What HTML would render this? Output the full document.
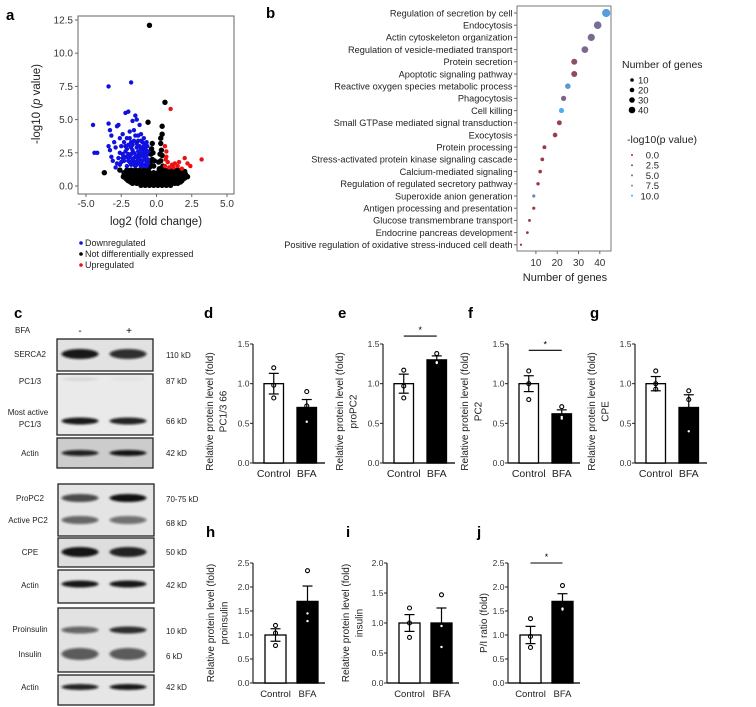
<!DOCTYPE html>
<html><head><meta charset="utf-8"><style>
html,body{margin:0;padding:0;background:#fff;}
svg{display:block;font-family:"Liberation Sans",Arial,sans-serif;}
</style></head><body>
<svg id="fig" width="756" height="707" viewBox="0 0 756 707" xmlns="http://www.w3.org/2000/svg">
<defs>
<filter id="blur1" x="-20%" y="-100%" width="140%" height="300%"><feGaussianBlur stdDeviation="1.3 1.0"/></filter>
</defs>
<g id="panelA"></g>
<g id="panelB"></g>
<g id="panelC"></g>
<g id="bars"></g>
</svg>
<script>
// ---------- Panel a data ----------
const bluePts=[[-4.5,4.6],[-4.4,2.5],[-4.2,2.5],[-3.4,7.5],[-1.8,7.8],[-3.4,4.7],[-3.3,4.2],[-3.2,3.8],[-3.4,3.0],[-3.3,2.7],[-3.2,2.2],[-3.0,3.3],[-2.9,2.9],[-2.8,4.5],[-2.7,4.6],[-2.6,3.6],[-2.5,3.0],[-2.4,2.4],[-2.3,1.9],[-3.1,1.9],[-2.9,1.4],[-2.2,5.5],[-2.0,5.6],[-2.1,3.6],[-1.9,4.1],[-1.8,2.9],[-1.7,4.9],[-1.6,4.2],[-1.5,5.3],[-1.4,5.0],[-1.2,4.6],[-1.1,3.9],[-1.0,3.3],[-0.9,2.7],[-0.8,2.9],[-0.7,3.3],[-0.7,2.3],[-0.6,2.0],[-1.3,2.0],[-1.5,1.8],[-1.8,1.6],[-2.1,1.5],[-2.5,1.8],[-2.7,2.1],[-2.2,2.6],[-1.9,2.2],[-1.6,2.5],[-1.4,2.9],[-1.2,2.4],[-1.0,1.9],[-0.8,1.6],[-1.1,1.5],[-1.6,3.4],[-2.0,3.1],[-2.4,3.9],[-1.3,3.4],[-0.9,3.6],[-1.7,2.0],[-2.2,2.2],[-1.0,2.6],[-0.7,1.8],[-1.5,3.8],[-1.9,3.6],[-2.8,1.7],[-2.6,2.5],[-1.3,1.7],[-1.2,3.0],[-0.9,2.2],[-1.4,2.3],[-1.7,2.7],[-2.0,2.4],[-2.3,3.3],[-0.8,2.0],[-1.1,2.8],[-1.5,1.5],[-1.9,1.8],[-0.6,2.6],[-0.65,3.0],[-1.0,1.6],[-1.2,2.1],[-1.6,2.1],[-2.0,1.9],
[-1.4,1.6],[-1.1,1.8],[-0.9,1.5],[-0.7,1.5],[-1.3,2.6],[-1.5,2.2],[-1.8,2.4],[-2.1,2.8],[-0.8,2.5],[-1.0,2.3],[-1.2,1.8],[-0.6,1.7],[-1.7,1.8],[-2.4,2.1],[-2.6,1.6],[-1.4,3.2],[-1.1,3.4],[-0.8,3.2],[-1.8,3.3],[-2.2,3.0],[-0.9,3.0],[-1.3,3.8],[-1.7,3.1],[-2.0,2.1],[-1.6,1.6],[-0.75,2.7]];
const redPts=[[1.0,5.8],[0.6,3.0],[0.7,2.6],[0.7,2.2],[0.8,1.8],[0.9,1.4],[1.1,1.6],[1.3,1.7],[1.5,1.5],[1.6,1.8],[2.0,2.1],[2.2,1.7],[2.4,1.5],[3.2,2.0],[0.6,1.5],[1.8,1.3],[0.65,2.0],[1.2,1.4]];
const blackPts=[[-0.5,12.1],[0.6,6.3],[-0.6,4.8],[0.4,4.5],[0.4,3.9],[0.3,3.6],[-3.7,1.0],[-2.6,1.2],[1.6,1.0],[1.9,0.8],[2.0,1.1],
[-0.3,3.2],[-0.35,2.8],[-0.4,2.4],[-0.3,2.0],[-0.45,1.7],[-0.5,1.4],[0.3,3.2],[0.35,2.7],[0.4,2.3],[0.3,1.9],[0.45,1.5],[0.5,1.2],[-0.2,1.5],[0.2,1.3],[-0.25,2.5],[0.25,2.4],[-0.15,1.9],[0.15,1.8],
[-2.1,1.2],[-1.8,1.2],[-1.5,1.2],[-1.2,1.2],[-0.9,1.2],[-0.6,1.2],[0.6,1.2],[0.9,1.2],[1.2,1.2],[1.5,1.2],[1.8,1.2],
[-2.3,1.0],[-2.0,1.0],[-1.7,1.0],[-1.4,1.0],[-1.1,1.0],[-0.8,1.0],[-0.5,1.0],[-0.2,1.0],[0.1,1.0],[0.4,1.0],[0.7,1.0],[1.0,1.0],[1.3,1.0],[1.6,1.0],[1.9,1.0],
[-2.15,0.9],[-1.85,0.9],[-1.55,0.9],[-1.25,0.9],[-0.95,0.9],[-0.65,0.9],[-0.35,0.9],[-0.05,0.9],[0.25,0.9],[0.55,0.9],[0.85,0.9],[1.15,0.9],[1.45,0.9],[1.75,0.9],[2.05,0.9],
[-2.3,0.8],[-2.0,0.8],[-1.7,0.8],[-1.4,0.8],[-1.1,0.8],[-0.8,0.8],[-0.5,0.8],[-0.2,0.8],[0.1,0.8],[0.4,0.8],[0.7,0.8],[1.0,0.8],[1.3,0.8],[1.6,0.8],[2.1,0.8],
[-2.35,0.7],[-2.05,0.7],[-1.75,0.7],[-1.45,0.7],[-1.15,0.7],[-0.85,0.7],[-0.55,0.7],[-0.25,0.7],[0.05,0.7],[0.35,0.7],[0.65,0.7],[0.95,0.7],[1.25,0.7],[1.55,0.7],[1.85,0.7],[2.2,0.7],
[-2.2,0.6],[-1.9,0.6],[-1.6,0.6],[-1.3,0.6],[-1.0,0.6],[-0.7,0.6],[-0.4,0.6],[-0.1,0.6],[0.2,0.6],[0.5,0.6],[0.8,0.6],[1.1,0.6],[1.4,0.6],[1.7,0.6],[2.0,0.6],
[-2.1,0.5],[-1.75,0.5],[-1.45,0.5],[-1.15,0.5],[-0.85,0.5],[-0.55,0.5],[-0.25,0.5],[0.05,0.5],[0.35,0.5],[0.65,0.5],[0.95,0.5],[1.25,0.5],[1.55,0.5],[1.85,0.5],
[-2.0,0.4],[-1.7,0.4],[-1.4,0.4],[-1.1,0.4],[-0.8,0.4],[-0.5,0.4],[-0.2,0.4],[0.1,0.4],[0.4,0.4],[0.7,0.4],[1.0,0.4],[1.3,0.4],[1.6,0.4],[1.8,0.4],
[-1.85,0.3],[-1.55,0.3],[-1.25,0.3],[-0.95,0.3],[-0.65,0.3],[-0.35,0.3],[-0.05,0.3],[0.25,0.3],[0.55,0.3],[0.85,0.3],[1.15,0.3],[1.45,0.3],[1.7,0.3],
[-1.7,0.2],[-1.4,0.2],[-1.1,0.2],[-0.8,0.2],[-0.5,0.2],[-0.2,0.2],[0.1,0.2],[0.4,0.2],[0.7,0.2],[1.0,0.2],[1.3,0.2],[1.5,0.2],
[-1.1,0.05],[-0.8,0.05],[-0.5,0.05],[-0.2,0.05],[0.1,0.05],[0.4,0.05],[0.7,0.05],[1.0,0.05]];
const volcXTicks=[-5,-2.5,0,2.5,5];
const volcXLabels=["-5.0","-2.5","0.0","2.5","5.0"];
const volcYTicks=[0,2.5,5,7.5,10,12.5];
const volcYLabels=["0.0","2.5","5.0","7.5","10.0","12.5"];

// ---------- Panel b data ----------
const goTerms=["Regulation of secretion by cell","Endocytosis","Actin cytoskeleton organization","Regulation of vesicle-mediated transport","Protein secretion","Apoptotic signaling pathway","Reactive oxygen species metabolic process","Phagocytosis","Cell killing","Small GTPase mediated signal transduction","Exocytosis","Protein processing","Stress-activated protein kinase signaling cascade","Calcium-mediated signaling","Regulation of regulated secretory pathway","Superoxide anion generation","Antigen processing and presentation","Glucose transmembrane transport","Endocrine pancreas development","Positive regulation of oxidative stress-induced cell death"];
const goCounts=[43,39,36,33,28,28,25,23,22,21,19,14,13,12,11,9,9,7,6,3];
const goPvals=[9,5.5,5,5,3,2.5,8.5,4.5,10,2,1.5,1.5,1.5,1.2,1.2,7,1.2,1,0.8,0.5];
const goXTicks=[10,20,30,40];
const sizeLegend=[10,20,30,40];
const pLegend=[0,2.5,5,7.5,10];
const pLegendLabels=["0.0","2.5","5.0","7.5","10.0"];

// ---------- Bar chart data ----------
const groups=["Control","BFA"];
const dMeans=[1.0,0.70], dErr=[0.13,0.10], dPts=[[1.2,0.98,0.82],[0.9,0.72,0.52]];
const eMeans=[1.0,1.30], eErr=[0.12,0.05], ePts=[[1.17,0.97,0.82],[1.38,1.27,1.26]];
const fMeans=[1.0,0.62], fErr=[0.10,0.05], fPts=[[1.16,1.0,0.8],[0.71,0.56,0.58]];
const gMeans=[1.0,0.70], gErr=[0.09,0.16], gPts=[[1.16,1.0,0.93],[0.91,0.80,0.40]];
const hMeans=[1.0,1.70], hErr=[0.13,0.32], hPts=[[1.2,1.04,0.78],[2.34,1.45,1.29]];
const iMeans=[1.0,1.0], iErr=[0.14,0.25], iPts=[[1.25,1.0,0.76],[1.47,0.95,0.6]];
const jMeans=[1.0,1.70], jErr=[0.18,0.16], jPts=[[1.34,0.97,0.74],[2.03,1.53,1.55]];
const ticks15=[0,0.5,1.0,1.5], ticks20=[0,0.5,1.0,1.5,2.0], ticks25=[0,0.5,1.0,1.5,2.0,2.5];

const NS="http://www.w3.org/2000/svg";
function mk(parent,tag,attrs,text){const e=document.createElementNS(NS,tag);for(const k in attrs)e.setAttribute(k,attrs[k]);if(text!==undefined)e.textContent=text;parent.appendChild(e);return e;}

// ---------- Panel a ----------
(function(){
const g=document.getElementById('panelA');
const xs=v=>156.5+14.1*v, ys=v=>186-13.28*v;
let t=mk(g,'text',{x:6,y:20,'font-size':15,'font-weight':'bold'},'a');

let box=mk(g,'rect',{x:78,y:16,width:156,height:178,fill:'none',stroke:'#666','stroke-width':1});

volcYTicks.forEach((v,i)=>{mk(g,'line',{x1:75,x2:78,y1:ys(v),y2:ys(v),stroke:'#666'});
 const l=mk(g,'text',{x:73,y:ys(v)+3.5,'font-size':10,'text-anchor':'end',fill:'#333'},volcYLabels[i]);
 });
volcXTicks.forEach((v,i)=>{mk(g,'line',{x1:xs(v),x2:xs(v),y1:194,y2:197,stroke:'#666'});
 const l=mk(g,'text',{x:xs(v),y:207,'font-size':10,'text-anchor':'middle',fill:'#333'},volcXLabels[i]);
 });
let xt=mk(g,'text',{x:156,y:225,'font-size':11.5,'text-anchor':'middle',fill:'#222'},'log2 (fold change)');

let yt=mk(g,'text',{x:0,y:0,'font-size':11.5,'text-anchor':'middle',fill:'#222',transform:'translate(40,104) rotate(-90)'});
yt.innerHTML='-log10 (<tspan font-style="italic">p</tspan> value)';

const pts=mk(g,'g',{});
blackPts.forEach(p=>{const c=mk(pts,'circle',{cx:xs(p[0]),cy:ys(p[1]),r:2.7,fill:'#000'});});
bluePts.forEach(p=>{const c=mk(pts,'circle',{cx:xs(p[0]),cy:ys(p[1]),r:2.2,fill:'#1010e0'});});
redPts.forEach(p=>{const c=mk(pts,'circle',{cx:xs(p[0]),cy:ys(p[1]),r:2.2,fill:'#ee1111'});});
const leg=[["Downregulated","#1010e0"],["Not differentially expressed","#000"],["Upregulated","#ee1111"]];
leg.forEach((e,i)=>{const y=246+i*11;
 const c=mk(g,'circle',{cx:81,cy:y-3,r:1.8,fill:e[1]});
 const l=mk(g,'text',{x:85,y:y,'font-size':9,fill:'#222'},e[0]);});
})();

// ---------- Panel b ----------
(function(){
const g=document.getElementById('panelB');
const xs=v=>514.6+2.13*v, yr=i=>13+i*12.2;
const rs=n=>0.9+n*0.075;
function col(p){const f=Math.min(1,Math.max(0,p/10));const a=[165,40,45],b=[80,170,240];
 return 'rgb('+a.map((c,i)=>Math.round(c+(b[i]-c)*f)).join(',')+')';}
let t=mk(g,'text',{x:266,y:18,'font-size':15,'font-weight':'bold'},'b');

let box=mk(g,'rect',{x:517,y:6,width:94,height:245,fill:'none',stroke:'#777','stroke-width':1});

goTerms.forEach((s,i)=>{mk(g,'line',{x1:514,x2:517,y1:yr(i),y2:yr(i),stroke:'#666'});
 const l=mk(g,'text',{x:512.5,y:yr(i)+3.3,'font-size':9.2,'text-anchor':'end',fill:'#222'},s);
 
 const c=mk(g,'circle',{cx:xs(goCounts[i]),cy:yr(i),r:rs(goCounts[i]),fill:col(goPvals[i])});
 });
goXTicks.forEach(v=>{mk(g,'line',{x1:xs(v),x2:xs(v),y1:251,y2:254,stroke:'#666'});
 const l=mk(g,'text',{x:xs(v),y:266,'font-size':10,'text-anchor':'middle',fill:'#333'},String(v));
 });
let xt=mk(g,'text',{x:565,y:281,'font-size':11,'text-anchor':'middle',fill:'#222'},'Number of genes');

let lt=mk(g,'text',{x:622,y:68,'font-size':10.5,fill:'#222'},'Number of genes');

sizeLegend.forEach((n,i)=>{const y=80+i*10;
 const c=mk(g,'circle',{cx:632,cy:y,r:1.3+n*0.05,fill:'#000'});
 const l=mk(g,'text',{x:638,y:y+3.5,'font-size':9.5,fill:'#222'},String(n));});
let pt=mk(g,'text',{x:627,y:143,'font-size':10.5,fill:'#222'},'-log10(p value)');

pLegend.forEach((p,i)=>{const y=155+i*10.2;
 const c=mk(g,'circle',{cx:632,cy:y,r:1,fill:col(p)});
 const l=mk(g,'text',{x:659,y:y+3.5,'font-size':9.5,'text-anchor':'end',fill:'#222'},pLegendLabels[i]);});
})();

// ---------- Panel c (western blots) ----------
(function(){
const g=document.getElementById('panelC');
let t=mk(g,'text',{x:14,y:318,'font-size':15,'font-weight':'bold'},'c');

mk(g,'text',{x:15,y:333,'font-size':8,fill:'#222'},'BFA');
mk(g,'text',{x:80,y:334,'font-size':10,'text-anchor':'middle'},'-');
mk(g,'text',{x:129,y:334,'font-size':10,'text-anchor':'middle'},'+');
const boxes=[[57,339,96,32,'#e2e2e2'],[57,374,96,61,'#eaeaea'],[57,438,96,30,'#cccccc'],[58,484,96,52,'#e4e4e4'],[58,538,96,29,'#dedede'],[58,570,96,33,'#e6e6e6'],[58,608,96,64,'#e2e2e2'],[58,675,96,30,'#e6e6e6']];
boxes.forEach(b=>{const r=mk(g,'rect',{x:b[0],y:b[1],width:b[2],height:b[3],fill:b[4],stroke:'#222','stroke-width':1.3});
 });
// bands: [y, height, opacity-left, opacity-right]
const bands=[[354,10,0.95,0.85],[379,4,0.08,0.03],[421,7,0.95,0.9],[453,6,0.9,0.97],[498,8,0.72,0.98],[520,8,0.6,0.55],[552,10,0.97,0.9],[584,7,0.95,0.95],[630,7,0.6,0.85],[654,12,0.65,0.65],[687,6,0.9,0.95]];
bands.forEach(b=>{[[80,b[2]],[128,b[3]]].forEach(l=>{
 const e=mk(g,'ellipse',{cx:l[0],cy:b[0],rx:18.5,ry:b[1]/2,fill:'#111','fill-opacity':l[1],filter:'url(#blur1)'});
 });});
const left=[["SERCA2",357],["PC1/3",384],["Most active",415],["PC1/3",427],["Actin",456],["ProPC2",501],["Active PC2",523],["CPE",555],["Actin",588],["Proinsulin",632],["Insulin",657],["Actin",690]];
left.forEach(l=>{const e=mk(g,'text',{x:l[0]==="Most active"||l[0]==="Active PC2"?28:30,y:l[1],'font-size':8,'text-anchor':'middle',fill:'#222'},l[0]);
 });
const right=[["110 kD",358],["87 kD",384],["66 kD",424],["42 kD",456],["70-75 kD",502],["68 kD",526],["50 kD",555],["42 kD",588],["10 kD",634],["6 kD",659],["42 kD",690]];
right.forEach(l=>{const e=mk(g,'text',{x:166,y:l[1],'font-size':8,fill:'#222'},l[0]);
 });
})();

// ---------- Bar charts ----------
function barChart(o){
 const g=mk(document.getElementById('bars'),'g',{});
 
 const ys=v=>o.y0-(o.y0-o.yTop)*v/o.ymax;
 const ax=o.ax;
 let t=mk(g,'text',{x:o.lx,y:o.ly,'font-size':15,'font-weight':'bold'},o.id);
 
 mk(g,'line',{x1:ax,x2:ax,y1:o.yTop,y2:o.y0,stroke:'#222','stroke-width':1.2});
 mk(g,'line',{x1:ax,x2:ax+72,y1:o.y0,y2:o.y0,stroke:'#222','stroke-width':1.4});
 o.ticks.forEach(v=>{mk(g,'line',{x1:ax-3,x2:ax,y1:ys(v),y2:ys(v),stroke:'#222'});
  const l=mk(g,'text',{x:ax-3.5,y:ys(v)+3,'font-size':8.5,'text-anchor':'end',fill:'#333'},v.toFixed(1));
  });
 const bx=[ax+o.bo[0],ax+o.bo[1]];
 o.means.forEach((m,i)=>{
  const r=mk(g,'rect',{x:bx[i],y:ys(m),width:o.bw,height:o.y0-ys(m),fill:i?'#000':'#fff',stroke:'#000','stroke-width':1.3});
  
  const cx=bx[i]+o.bw/2;
  const top=ys(m+o.err[i]);
  mk(g,'line',{x1:cx,x2:cx,y1:ys(m),y2:top,stroke:'#000','stroke-width':1.2});
  mk(g,'line',{x1:cx-5,x2:cx+5,y1:top,y2:top,stroke:'#000','stroke-width':1.2});
  if(!i){const bt=ys(m-o.err[i]);mk(g,'line',{x1:cx,x2:cx,y1:ys(m),y2:bt,stroke:'#000','stroke-width':1.2});mk(g,'line',{x1:cx-5,x2:cx+5,y1:bt,y2:bt,stroke:'#000','stroke-width':1.2});}
  o.pts[i].forEach(p=>{const inside=i&&p<m;
   const c=mk(g,'circle',{cx:cx,cy:ys(p),r:inside?1.2:2,fill:inside?'#fff':'none',stroke:inside?'none':'#000','stroke-width':1.1});
   });
  const l=mk(g,'text',{x:cx,y:o.y0+o.xly,'font-size':o.xfs,'text-anchor':'middle',fill:'#222'},groups[i]);
  
 });
 if(o.sig!==undefined){const sy=ys(o.sig);const c0=bx[0]+o.bw/2,c1=bx[1]+o.bw/2;
  mk(g,'line',{x1:c0,x2:c1,y1:sy,y2:sy,stroke:'#000','stroke-width':1.1});
  mk(g,'text',{x:(c0+c1)/2,y:sy-3,'font-size':9,'text-anchor':'middle'},'*');}
 const cy=(o.yTop+o.y0)/2+o.tyo;
 o.title.forEach((s,k)=>{const l=mk(g,'text',{x:0,y:0,'font-size':10,'text-anchor':'middle',fill:'#222',transform:'translate('+(o.tx+k*13.5)+','+cy+') rotate(-90)'},s);
  });
}
const r1={y0:463,yTop:344,ymax:1.5,ticks:ticks15,bo:[11,44],bw:19.5,xly:14,xfs:10.5,ly:318,tyo:8};
barChart(Object.assign({},r1,{id:'d',ax:253,lx:204,means:dMeans,err:dErr,pts:dPts,title:['Relative protein level (fold)','PC1/3 66'],tx:213}));
barChart(Object.assign({},r1,{id:'e',ax:383,lx:338,means:eMeans,err:eErr,pts:ePts,sig:1.6,title:['Relative protein level (fold)','proPC2'],tx:343}));
barChart(Object.assign({},r1,{id:'f',ax:508,lx:468,means:fMeans,err:fErr,pts:fPts,sig:1.42,title:['Relative protein level (fold)','PC2'],tx:468}));
barChart(Object.assign({},r1,{id:'g',ax:635,lx:590,means:gMeans,err:gErr,pts:gPts,title:['Relative protein level (fold)','CPE'],tx:595}));
const r2={y0:683,yTop:563,bo:[12,44],bw:21,xly:14,xfs:9.5,ly:537,tyo:0};
barChart(Object.assign({},r2,{id:'h',ax:253,lx:206,ymax:2.5,ticks:ticks25,means:hMeans,err:hErr,pts:hPts,title:['Relative protein level (fold)','proinsulin'],tx:214}));
barChart(Object.assign({},r2,{id:'i',ax:387,lx:346,ymax:2.0,ticks:ticks20,means:iMeans,err:iErr,pts:iPts,title:['Relative protein level (fold)','insulin'],tx:349}));
barChart(Object.assign({},r2,{id:'j',ax:508,lx:477,ymax:2.5,ticks:ticks25,means:jMeans,err:jErr,pts:jPts,sig:2.5,title:['P/I ratio (fold)'],tx:487}));
</script>
</body></html>
